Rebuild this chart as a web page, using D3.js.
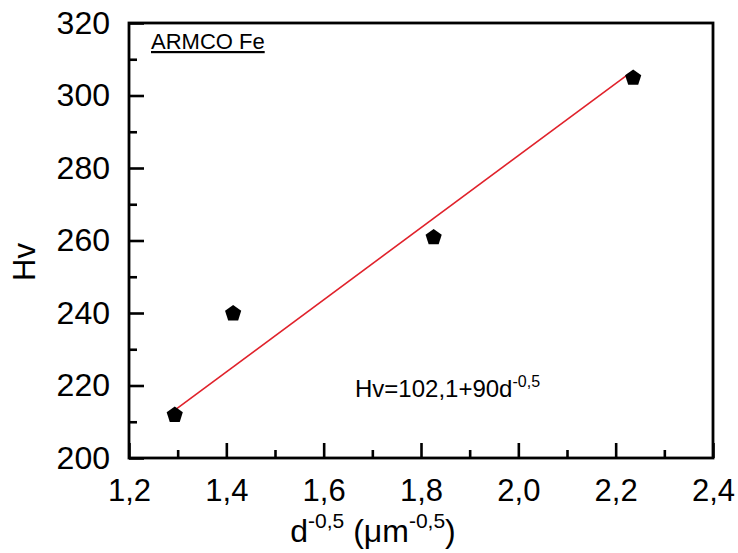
<!DOCTYPE html>
<html>
<head>
<meta charset="utf-8">
<script src="https://cdn.jsdelivr.net/npm/d3@7"></script>
<style>
  body { margin: 0; background: #fff; }
  svg { display: block; font-family: 'Liberation Sans', Arial, sans-serif; }
  .axis path.domain { display: none; }
  .axis line { stroke: #000; stroke-width: 2.6; }
  .axis text { fill: #000; }
</style>
</head>
<body>
<svg id="chart" width="738" height="553"></svg>
<script>
// data
const dInv = [1.294, 1.414, 1.826, 2.236]   // d^-0.5, µm^-0.5
const hv = [212, 240, 261, 305]
const fitX = [1.294, 2.229]                 // red fit line ends
const fitY = [213.2, 306.2]
const xTicks = [1.2, 1.4, 1.6, 1.8, 2.0, 2.2, 2.4]
const xMinor = [1.3, 1.5, 1.7, 1.9, 2.1, 2.3]
const yTicks = [200, 220, 240, 260, 280, 300, 320]
const yMinor = [210, 230, 250, 270, 290, 310]

const W = 738, H = 553
const m = {top: 23, right: 25, bottom: 95, left: 129}
const width = W - m.left - m.right
const height = H - m.top - m.bottom

const svg = d3.select('#chart')
const g = svg.append('g').attr('transform', `translate(${m.left},${m.top})`)

// scales
const x = d3.scaleLinear().domain([1.2, 2.4]).range([0, width])
const y = d3.scaleLinear().domain([200, 320]).range([height, 0])
const comma = v => d3.format('.1f')(v).replace('.', ',')

// minor ticks first (no labels)
g.append('g').attr('class', 'axis')
  .attr('transform', `translate(0,${height})`)
  .call(d3.axisBottom(x).tickValues(xMinor).tickSize(-8).tickFormat(''))
g.append('g').attr('class', 'axis')
  .call(d3.axisLeft(y).tickValues(yMinor).tickSize(-8).tickFormat(''))

// major ticks
g.append('g').attr('class', 'axis')
  .attr('transform', `translate(0,${height})`)
  .call(d3.axisBottom(x).tickValues(xTicks).tickSize(-15).tickPadding(21).tickFormat(comma))
  .selectAll('text').attr('font-size', 31)
g.append('g').attr('class', 'axis')
  .call(d3.axisLeft(y).tickValues(yTicks).tickSize(-15).tickPadding(19).tickFormat(d3.format('d')))
  .selectAll('text').attr('font-size', 32)

// frame
g.append('rect')
  .attr('width', width).attr('height', height)
  .attr('fill', 'none').attr('stroke', '#000').attr('stroke-width', 2.8)

// fit line
g.append('line')
  .attr('x1', x(fitX[0])).attr('y1', y(fitY[0]))
  .attr('x2', x(fitX[1])).attr('y2', y(fitY[1]))
  .attr('stroke', '#e0222b').attr('stroke-width', 1.6)

// pentagon markers
const pent = r => d3.range(5).map(i => {
  const a = -Math.PI / 2 + i * 2 * Math.PI / 5
  return [r * Math.cos(a), r * Math.sin(a)]
})
g.selectAll('path.pt').data(dInv.map((d, i) => [d, hv[i]]))
  .enter().append('path').attr('class', 'pt')
  .attr('d', 'M' + pent(8.5).join('L') + 'Z')
  .attr('transform', d => `translate(${x(d[0])},${y(d[1]) + 0.5})`)
  .attr('fill', '#000')

// ARMCO Fe label
g.append('text')
  .attr('x', 22).attr('y', 26)
  .attr('font-size', 22).attr('text-decoration', 'underline')
  .text('ARMCO Fe')

// equation
const eq = g.append('text').attr('x', 226).attr('y', 374).attr('font-size', 24)
eq.append('tspan').text('Hv=102,1+90d')
eq.append('tspan').attr('dy', -10).attr('font-size', 16).text('-0,5')

// axis titles
const xt = svg.append('text').attr('x', 373).attr('y', 542)
  .attr('text-anchor', 'middle').attr('font-size', 32)
xt.append('tspan').text('d')
xt.append('tspan').attr('dy', -14).attr('font-size', 21).text('-0,5')
xt.append('tspan').attr('dy', 14).text(' (\u03bcm')
xt.append('tspan').attr('dy', -14).attr('font-size', 21).text('-0,5')
xt.append('tspan').attr('dy', 14).text(')')

svg.append('text')
  .attr('transform', `translate(35,262) rotate(-90)`)
  .attr('text-anchor', 'middle').attr('font-size', 31)
  .text('Hv')
</script>
</body>
</html>
